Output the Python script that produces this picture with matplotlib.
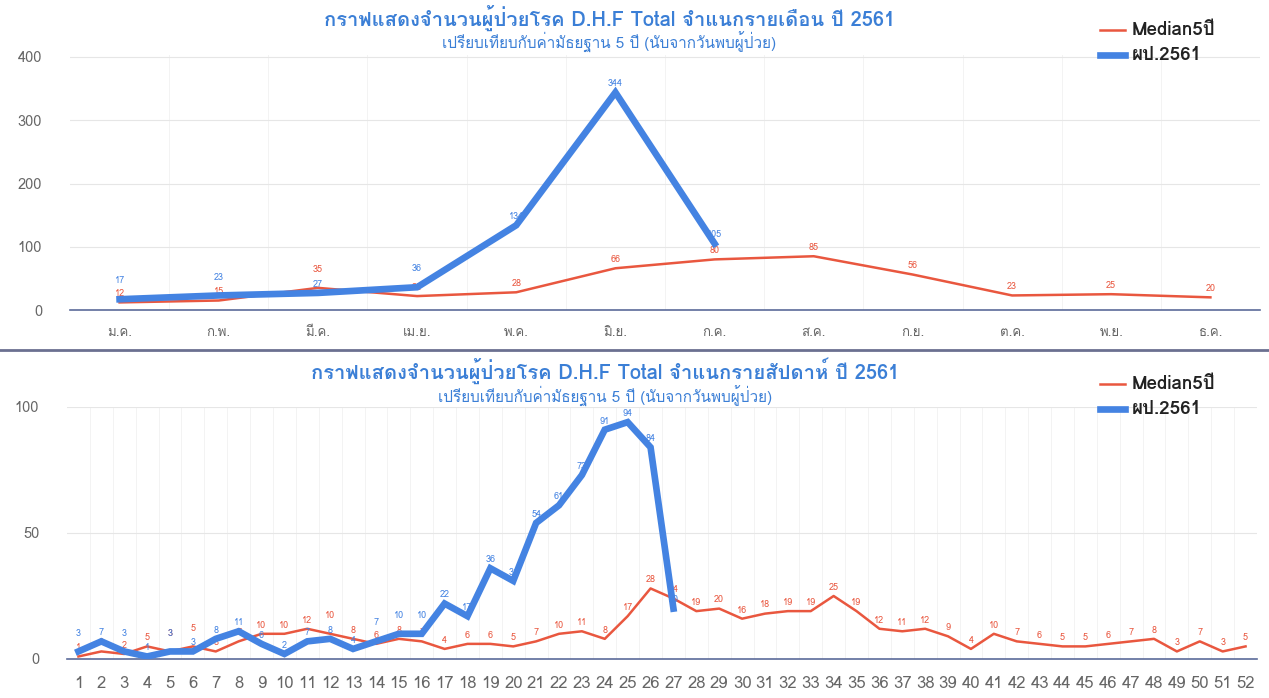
import matplotlib
matplotlib.use('Agg')
import matplotlib.pyplot as plt
from matplotlib import font_manager
from matplotlib.lines import Line2D
import numpy as np


# หา font ที่มีตัวอักษรไทย
def thai_font():
    try:
        from fontTools.ttLib import TTFont
    except Exception:
        return None
    names = []
    for f in font_manager.fontManager.ttflist:
        try:
            tt = TTFont(f.fname, fontNumber=0, lazy=True)
            cmap = tt.getBestCmap()
            if cmap and 0x0E01 in cmap:
                names.append(f.name)
        except Exception:
            pass
    return names


thai = thai_font() or []
fam = list(dict.fromkeys(thai[:1] + ['DejaVu Sans']))
plt.rcParams['font.family'] = fam

# ---- ข้อมูลรายเดือน ----
months = ['ม.ค.', 'ก.พ.', 'มี.ค.', 'เม.ย.', 'พ.ค.', 'มิ.ย.',
          'ก.ค.', 'ส.ค.', 'ก.ย.', 'ต.ค.', 'พ.ย.', 'ธ.ค.']
median_month = [12, 15, 35, 22, 28, 66, 80, 85, 56, 23, 25, 20]
case_month = [17, 23, 27, 36, 134, 344, 105]

# ---- ข้อมูลรายสัปดาห์ ----
weeks = list(range(1, 53))
median_week = [1, 3, 2, 5, 3, 5, 3, 7, 10, 10, 12, 10, 8, 6, 8, 7, 4, 6, 6, 5,
               7, 10, 11, 8, 17, 28, 24, 19, 20, 16, 18, 19, 19, 25, 19, 12, 11, 12,
               9, 4, 10, 7, 6, 5, 5, 6, 7, 8, 3, 7, 3, 5]
case_week = [3, 7, 3, 1, 3, 3, 8, 11, 6, 2, 7, 8, 4, 7, 10, 10, 22, 17, 36, 31,
             54, 61, 73, 91, 94, 84, 20]

red = '#e9573f'
blue = '#4483e2'
title_c = '#3b7fd6'
tick_c = '#666666'

fig = plt.figure(figsize=(12.69, 6.98), dpi=100)
W, H = 1269.0, 698.0


def setup(ax, x, labels, ymax, yticks, lsize):
    ax.set_xlim(-0.5, len(x) - 0.5)
    ax.set_ylim(0, ymax)
    ax.set_yticks(yticks)
    ax.set_xticks(range(len(x)))
    ax.set_xticklabels(labels, fontsize=lsize, color=tick_c)
    ax.tick_params(axis='y', labelsize=10.5, colors=tick_c, length=0, pad=20)
    ax.tick_params(axis='x', length=0, pad=12)
    for s in ['top', 'right', 'left']:
        ax.spines[s].set_visible(False)
    ax.spines['bottom'].set_color('#5b6b9a')
    ax.spines['bottom'].set_linewidth(1.2)
    ax.grid(True, axis='y', color='#e6e6e6', lw=0.8)
    for b in np.arange(0.5, len(x) - 0.5, 1):
        ax.axvline(b, color='#f3f3f3', lw=0.7, zorder=0)
    ax.set_axisbelow(True)


# ตัวเลขบนจุด ถ้าสองเส้นใกล้กัน ให้ตัวเลขของเส้นที่สูงกว่าขยับขึ้นไปอีก
def labels_on(ax, y, other, c, fs, scale):
    for i, v in enumerate(y):
        dy = 3
        if i < len(other) and abs(other[i] - v) * scale < 10 and v >= other[i]:
            dy = 10
        ax.annotate(str(v), (i, v), xytext=(0, dy), textcoords='offset points',
                    ha='center', va='bottom', fontsize=fs, color=c)


# ---- กราฟบน ----
ax1 = fig.add_axes([70 / W, 1 - 310 / H, 1190 / W, 255 / H])
setup(ax1, months, months, 400 * 255 / 253, [0, 100, 200, 300, 400], 9.5)
ax1.plot(range(len(median_month)), median_month, color=red, lw=1.8, zorder=3)
ax1.plot(range(len(case_month)), case_month, color=blue, lw=4.8, zorder=4,
         solid_joinstyle='miter')
labels_on(ax1, median_month, case_month, red, 6.5, 0.63)
labels_on(ax1, case_month, median_month, blue, 6.5, 0.63)

fig.text(610 / W, 1 - 18 / H, 'กราฟแสดงจำนวนผู้ป่วยโรค D.H.F Total จำแนกรายเดือน ปี 2561',
         ha='center', va='center', fontsize=14.5, fontweight='bold', color=title_c)
fig.text(609 / W, 1 - 42 / H, 'เปรียบเทียบกับค่ามัธยฐาน 5 ปี (นับจากวันพบผู้ป่วย)',
         ha='center', va='center', fontsize=11, color=title_c)

# ---- กราฟล่าง ----
ax2 = fig.add_axes([67 / W, 1 - 659 / H, 1190 / W, 252 / H])
setup(ax2, weeks, [str(w) for w in weeks], 100, [0, 50, 100], 12)
ax2.tick_params(axis='x', pad=12)
ax2.plot(range(len(median_week)), median_week, color=red, lw=1.8, zorder=3)
ax2.plot(range(len(case_week)), case_week, color=blue, lw=4.8, zorder=4,
         solid_joinstyle='miter')
labels_on(ax2, median_week, case_week, red, 6.5, 2.52)
labels_on(ax2, case_week, median_week, blue, 6.5, 2.52)

fig.text(605 / W, 1 - 371 / H, 'กราฟแสดงจำนวนผู้ป่วยโรค D.H.F Total จำแนกรายสัปดาห์ ปี 2561',
         ha='center', va='center', fontsize=14.5, fontweight='bold', color=title_c)
fig.text(605 / W, 1 - 396 / H, 'เปรียบเทียบกับค่ามัธยฐาน 5 ปี (นับจากวันพบผู้ป่วย)',
         ha='center', va='center', fontsize=11, color=title_c)

# เส้นคั่นระหว่างสองกราฟ
fig.add_artist(Line2D([0, 1], [1 - 350 / H, 1 - 350 / H], color='#6b7090', lw=2))

# legend
for ytop in (30, 384):
    for k, (c, lw, t) in enumerate([(red, 1.8, 'Median5ปี'), (blue, 4.8, 'ผป.2561')]):
        yy = 1 - (ytop + k * 25) / H
        fig.add_artist(Line2D([1100 / W, 1125 / W], [yy, yy], color=c, lw=lw))
        fig.text(1132 / W, yy, t, ha='left', va='center', fontsize=13.5,
                 fontweight='bold', color='#222222')

fig.savefig('out.png', dpi=100)
